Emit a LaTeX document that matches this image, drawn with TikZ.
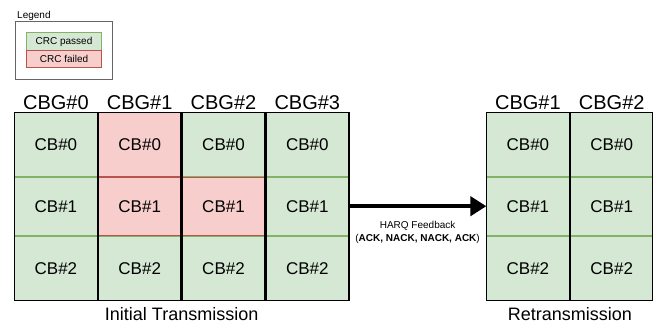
\documentclass[tikz,border=0pt]{standalone}
\usepackage{fontspec}
\setmainfont{Liberation Sans}
\usetikzlibrary{matrix,arrows.meta,positioning}
\definecolor{passfill}{HTML}{D5E8D4}
\definecolor{passline}{HTML}{82B366}
\definecolor{failfill}{HTML}{F8CECC}
\definecolor{failline}{HTML}{B85450}
\definecolor{legendline}{HTML}{666666}
\tikzset{
	cbpass/.style={draw=passline, fill=passfill, line width=0.8pt, minimum width=83pt, inner sep=0pt, outer sep=0pt, font=\fontsize{17}{20}\selectfont},
	cbfail/.style={cbpass, draw=failline, fill=failfill},
	cbghead/.style={draw=none, fill=none, minimum height=18pt, font=\fontsize{20}{24}\selectfont},
	cbgframe/.style={draw=black, line width=1.8pt},
	cbgrid/.style={matrix of nodes, row sep=0pt, column sep=0pt, inner sep=0pt, outer sep=0pt, anchor=north west,
		nodes={cbpass},
		row 1/.style={nodes={cbghead}},
		row 2/.style={nodes={minimum height=64pt}},
		row 3/.style={nodes={minimum height=58pt}},
		row 4/.style={nodes={minimum height=64.5pt}}},
	txlabel/.style={inner sep=0pt, font=\fontsize{18}{22}\selectfont},
	legendbox/.style={draw=legendline, line width=0.6pt, minimum width=96.6pt, minimum height=57.3pt, inner sep=0pt},
	legendpass/.style={cbpass, minimum width=75pt, minimum height=17.5pt, font=\fontsize{10}{12}\selectfont},
	legendfail/.style={legendpass, draw=failline, fill=failfill},
	feedback/.style={line width=4pt, -{Triangle[length=16pt,width=19pt]}}
}
\begin{document}
\begin{tikzpicture}[x=1pt, y=-1pt]
	\useasboundingbox (0,0) rectangle (653,324);
	% legend
	\node[legendbox] (legend) at (64,50.35) {};
	\node[inner sep=0pt, anchor=base west, font=\fontsize{10}{12}\selectfont] (legendtitle) at ([shift={(1.6,-3.1)}]legend.north west) {Legend};
	\node[legendpass, anchor=south] (passed) at (legend.center) {CRC passed};
	\node[legendfail, below=0pt of passed] (failed) {CRC failed};
	% initial transmission
	\matrix (init) [cbgrid] at (14,94)
	{
		CBG\#0 & CBG\#1 & CBG\#2 & CBG\#3 \\
		CB\#0 & |[cbfail]| CB\#0 & CB\#0 & CB\#0 \\
		CB\#1 & |[cbfail]| CB\#1 & |[cbfail]| CB\#1 & CB\#1 \\
		CB\#2 & CB\#2 & CB\#2 & CB\#2 \\
	};
	\foreach \c in {1,...,4}
		\draw[cbgframe] (init-2-\c.north west) rectangle (init-4-\c.south east);
	\node[txlabel, below=6pt of init.south] (initlabel) {Initial Transmission};
	% retransmission
	\matrix (re) [cbgrid] at (486,94)
	{
		CBG\#1 & CBG\#2 \\
		CB\#0 & CB\#0 \\
		CB\#1 & CB\#1 \\
		CB\#2 & CB\#2 \\
	};
	\foreach \c in {1,2}
		\draw[cbgframe] (re-2-\c.north west) rectangle (re-4-\c.south east);
	\node[txlabel, below=6pt of re.south] (relabel) {Retransmission};
	% feedback
	\draw[feedback] (init-3-4.east) -- (re-3-1.west)
		node[midway, below=13pt, inner sep=0pt, align=center, font=\fontsize{10}{13.3}\selectfont] (harq) {HARQ Feedback\\(\textbf{ACK, NACK, NACK, ACK})};
\end{tikzpicture}
\end{document}
